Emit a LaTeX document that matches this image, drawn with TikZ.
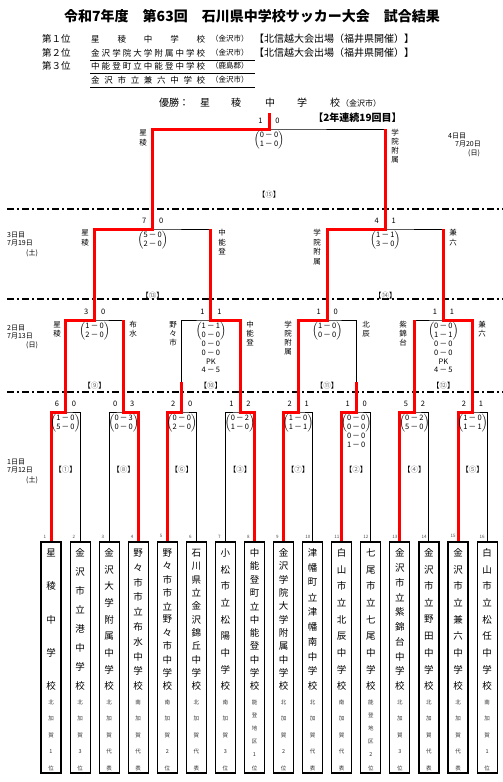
\documentclass[tikz,border=0pt]{standalone}
\usepackage{fontspec}
\setmainfont{Noto Sans CJK JP}
\newfontfamily\jp{Noto Sans CJK JP}
\tikzset{
  blk/.style={line width=1pt, black},
  redp/.style={line width=3pt, red, line join=miter},
  dashsep/.style={line width=1.6pt, black, dash pattern=on 7pt off 3pt on 2pt off 3pt},
  scn/.style={font=\jp\fontsize{7.5}{8.6}\selectfont, inner sep=0pt},
  det/.style={font=\jp\fontsize{7.5}{8.6}\selectfont, inner sep=0pt},
  vch/.style={font=\jp\fontsize{7.5}{8}\selectfont, inner sep=0pt},
  tch/.style={font=\jp\fontsize{9.5}{10}\selectfont, inner sep=0pt},
  rch/.style={font=\jp\fontsize{5.5}{6}\selectfont, inner sep=0pt, black!80},
  bnum/.style={font=\jp\fontsize{4.5}{5}\selectfont, inner sep=0pt, anchor=west, black!70},
  teambox/.style={draw, line width=1.2pt, minimum width=20pt, minimum height=231pt, inner sep=0pt},
  rlab/.style={font=\jp\fontsize{7.5}{8}\selectfont, inner sep=0pt},
  day/.style={font=\jp\fontsize{7}{8}\selectfont, inner sep=0pt, anchor=west},
  rk/.style={font=\jp\fontsize{9.5}{10}\selectfont, inner sep=0pt, anchor=west},
  rs/.style={font=\jp\fontsize{8.5}{10}\selectfont, inner sep=0pt, anchor=west},
  rsm/.style={font=\jp\fontsize{7.5}{9}\selectfont, inner sep=0pt, anchor=west},
  hs/.style={font=\jp\fontsize{10}{11}\selectfont, inner sep=0pt, anchor=west},
}
\newcommand\vtxt[6]{\foreach \ch [count=\ii from 0] in {#6} {\node[#5] (#1-\ii) at (#2,{#3+\ii*#4}) {\ch};}}
\newcommand\scores[5]{\node[scn] (#1l) at ({#2-8.5},#3) {#4};\node[scn] (#1r) at ({#2+8.5},#3) {#5};}
\newcommand\detail[5]{\node[det] (#1) at (#2,{#3+11.3}) {$\left(\begin{tabular}{@{}c@{}}#4\\#5\end{tabular}\right)$};}
\newcommand\rl[1]{【{\color{black!60}#1}】}
\begin{document}
\begin{tikzpicture}[x=1pt,y=-1pt]
\useasboundingbox (0,0) rectangle (503,782);
\fill[white] (0,0) rectangle (503,782);

% ---------- header ----------
\node[font=\jp\bfseries\fontsize{14}{16}\selectfont, inner sep=0pt] (title) at (252,16) {令和7年度　第63回　石川県中学校サッカー大会　試合結果};
\node[rk] (p1) at (42,39) {第１位};
\node[rk] (p2) at (42,53) {第２位};
\node[rk] (p3) at (42,66) {第３位};
\node[rs] (s1) at (91,39) {\makebox[114pt]{星\hfill 稜\hfill 中\hfill 学\hfill 校}};
\node[rs] (s2) at (91,53) {\makebox[114pt]{金\hfill 沢\hfill 学\hfill 院\hfill 大\hfill 学\hfill 附\hfill 属\hfill 中\hfill 学\hfill 校}};
\node[rs] (s3) at (91,66) {\makebox[114pt]{中\hfill 能\hfill 登\hfill 町\hfill 立\hfill 中\hfill 能\hfill 登\hfill 中\hfill 学\hfill 校}};
\node[rs] (s4) at (91,80) {\makebox[114pt]{金\hfill 沢\hfill 市\hfill 立\hfill 兼\hfill 六\hfill 中\hfill 学\hfill 校}};
\node[rsm] (s1c) at (211,39) {（金沢市）};
\node[rsm] (s2c) at (211,53) {（金沢市）};
\node[rsm] (s3c) at (211,66) {（鹿島郡）};
\node[rsm] (s4c) at (211,80) {（金沢市）};
\coordinate (u1a) at (90,60); \coordinate (u1b) at (255,60);
\coordinate (u2a) at (90,73); \coordinate (u2b) at (255,73);
\coordinate (u3a) at (90,87); \coordinate (u3b) at (255,87);
\draw[blk] (u1a) -- (u1b); \draw[blk] (u2a) -- (u2b); \draw[blk] (u3a) -- (u3b);
\node[hs] (h1) at (254,39) {【北信越大会出場（福井県開催）】};
\node[hs] (h2) at (254,53) {【北信越大会出場（福井県開催）】};

\node[hs] (yu) at (159,103) {優勝：};
\node[font=\jp\fontsize{10}{11}\selectfont, inner sep=0pt] (c1) at (205,103) {星};
\node[font=\jp\fontsize{10}{11}\selectfont, inner sep=0pt] (c2) at (236,103) {稜};
\node[font=\jp\fontsize{10}{11}\selectfont, inner sep=0pt] (c3) at (270,103) {中};
\node[font=\jp\fontsize{10}{11}\selectfont, inner sep=0pt] (c4) at (302,103) {学};
\node[font=\jp\fontsize{10}{11}\selectfont, inner sep=0pt] (c5) at (335,103) {校};
\node[font=\jp\fontsize{8}{9}\selectfont, inner sep=0pt, anchor=west] (c6) at (341,103) {（金沢市）};
\node[font=\jp\bfseries\fontsize{10}{11}\selectfont, inner sep=0pt] (ren) at (357.5,118) {【2年連続19回目】};

% ---------- separators ----------
\coordinate (L1a) at (7,209); \coordinate (L1b) at (503,209);
\coordinate (L2a) at (7,299); \coordinate (L2b) at (503,299);
\coordinate (L3a) at (7,392); \coordinate (L3b) at (503,392);
\draw[dashsep] (L1a) -- (L1b);
\draw[dashsep] (L2a) -- (L2b);
\draw[dashsep] (L3a) -- (L3b);

% ---------- team boxes ----------
\node[teambox] (b1) at (51.0,657.5) {};
\node[teambox] (b2) at (80.1,657.5) {};
\node[teambox] (b3) at (109.1,657.5) {};
\node[teambox] (b4) at (138.2,657.5) {};
\node[teambox] (b5) at (167.3,657.5) {};
\node[teambox] (b6) at (196.4,657.5) {};
\node[teambox] (b7) at (225.4,657.5) {};
\node[teambox] (b8) at (254.5,657.5) {};
\node[teambox] (b9) at (283.6,657.5) {};
\node[teambox] (b10) at (312.7,657.5) {};
\node[teambox] (b11) at (341.7,657.5) {};
\node[teambox] (b12) at (370.8,657.5) {};
\node[teambox] (b13) at (399.8,657.5) {};
\node[teambox] (b14) at (428.9,657.5) {};
\node[teambox] (b15) at (458.0,657.5) {};
\node[teambox] (b16) at (487.1,657.5) {};
\foreach \k in {1,...,16} {\node[bnum] (n\k) at ([xshift=3pt,yshift=5pt]b\k.north west) {\k};}

\vtxt{ta}{51.0}{553}{33.25}{tch}{星,稜,中,学,校}
\vtxt{tb}{80.1}{553}{19}{tch}{金,沢,市,立,港,中,学,校}
\vtxt{tc}{109.1}{553}{16.625}{tch}{金,沢,大,学,附,属,中,学,校}
\vtxt{td}{138.2}{553}{14.78}{tch}{野,々,市,市,立,布,水,中,学,校}
\vtxt{te}{167.3}{553}{13.3}{tch}{野,々,市,市,立,野,々,市,中,学,校}
\vtxt{tf}{196.4}{553}{13.3}{tch}{石,川,県,立,金,沢,錦,丘,中,学,校}
\vtxt{tg}{225.4}{553}{16.625}{tch}{小,松,市,立,松,陽,中,学,校}
\vtxt{th}{254.5}{553}{13.3}{tch}{中,能,登,町,立,中,能,登,中,学,校}
\vtxt{ti}{283.6}{553}{13.3}{tch}{金,沢,学,院,大,学,附,属,中,学,校}
\vtxt{tj}{312.7}{553}{14.78}{tch}{津,幡,町,立,津,幡,南,中,学,校}
\vtxt{tk}{341.7}{553}{16.625}{tch}{白,山,市,立,北,辰,中,学,校}
\vtxt{tl}{370.8}{553}{16.625}{tch}{七,尾,市,立,七,尾,中,学,校}
\vtxt{tm}{399.8}{553}{14.78}{tch}{金,沢,市,立,紫,錦,台,中,学,校}
\vtxt{tn}{428.9}{553}{16.625}{tch}{金,沢,市,立,野,田,中,学,校}
\vtxt{to}{458.0}{553}{16.625}{tch}{金,沢,市,立,兼,六,中,学,校}
\vtxt{tp}{487.1}{553}{16.625}{tch}{白,山,市,立,松,任,中,学,校}

\vtxt{ra}{51.0}{702}{16.5}{rch}{北,加,賀,1,位}
\vtxt{rb}{80.1}{702}{16.5}{rch}{北,加,賀,3,位}
\vtxt{rc}{109.1}{702}{16.5}{rch}{北,加,賀,代,表}
\vtxt{rd}{138.2}{702}{16.5}{rch}{南,加,賀,代,表}
\vtxt{re}{167.3}{702}{16.5}{rch}{南,加,賀,2,位}
\vtxt{rf}{196.4}{702}{16.5}{rch}{北,加,賀,代,表}
\vtxt{rg}{225.4}{702}{16.5}{rch}{南,加,賀,3,位}
\vtxt{rh}{254.5}{702}{13.2}{rch}{能,登,地,区,1,位}
\vtxt{ri}{283.6}{702}{16.5}{rch}{北,加,賀,2,位}
\vtxt{rj}{312.7}{702}{16.5}{rch}{北,加,賀,代,表}
\vtxt{rk}{341.7}{702}{16.5}{rch}{南,加,賀,代,表}
\vtxt{rl}{370.8}{702}{13.2}{rch}{能,登,地,区,2,位}
\vtxt{rm}{399.8}{702}{16.5}{rch}{北,加,賀,3,位}
\vtxt{rn}{428.9}{702}{16.5}{rch}{北,加,賀,代,表}
\vtxt{ro}{458.0}{702}{16.5}{rch}{北,加,賀,代,表}
\vtxt{rp}{487.1}{702}{16.5}{rch}{南,加,賀,1,位}

% ---------- bracket coordinates ----------
\coordinate (A1) at (65.5,412); \coordinate (A2) at (123.7,412);
\coordinate (A3) at (181.8,412); \coordinate (A4) at (240.0,412);
\coordinate (A5) at (298.1,412); \coordinate (A6) at (356.2,412);
\coordinate (A7) at (414.4,412); \coordinate (A8) at (472.5,412);
\coordinate (B1) at (94.6,320); \coordinate (B2) at (210.9,320);
\coordinate (B3) at (327.2,320); \coordinate (B4) at (443.4,320);
\coordinate (C1) at (152.7,229); \coordinate (C2) at (385.3,229);
\coordinate (D) at (269,129); \coordinate (W) at (269,113);

% black bracket
\draw[blk] (b1.north) |- (A1) -| (b2.north);
\draw[blk] (b3.north) |- (A2) -| (b4.north);
\draw[blk] (b5.north) |- (A3) -| (b6.north);
\draw[blk] (b7.north) |- (A4) -| (b8.north);
\draw[blk] (b9.north) |- (A5) -| (b10.north);
\draw[blk] (b11.north) |- (A6) -| (b12.north);
\draw[blk] (b13.north) |- (A7) -| (b14.north);
\draw[blk] (b15.north) |- (A8) -| (b16.north);
\draw[blk] (A1) |- (B1) -| (A2);
\draw[blk] (A3) |- (B2) -| (A4);
\draw[blk] (A5) |- (B3) -| (A6);
\draw[blk] (A7) |- (B4) -| (A8);
\draw[blk] (B1) |- (C1) -| (B2);
\draw[blk] (B3) |- (C2) -| (B4);
\draw[blk] (C1) |- (D) -| (C2);
\draw[blk] (D) -- (W);

% red paths
\draw[redp] (b1.north) |- (A1) |- (B1) |- (C1) |- (D) -- (W);
\draw[redp] (b4.north) |- (A2) -- (A2 |- B1);
\draw[redp] (b5.north) |- (A3) -- ++(0,-30);
\draw[redp] (b8.north) |- (A4) |- (B2) -- (B2 |- C1);
\draw[redp] (b9.north) |- (A5) |- (B3) |- (C2) -- (C2 |- D);
\draw[redp] (b11.north) |- (A6) -- ++(0,-30);
\draw[redp] (b13.north) |- (A7) -- (A7 |- B4);
\draw[redp] (b15.north) |- (A8) |- (B4) -- (B4 |- C2);

% ---------- scores ----------
\scores{sD}{269}{121}{1}{0}
\scores{sC1}{152.7}{221}{7}{0}
\scores{sC2}{385.3}{221}{4}{1}
\scores{sB1}{94.6}{312}{3}{0}
\scores{sB2}{210.9}{312}{1}{1}
\scores{sB3}{327.2}{312}{1}{0}
\scores{sB4}{443.4}{312}{1}{1}
\scores{sA1}{65.5}{404}{6}{0}
\scores{sA2}{123.7}{404}{0}{3}
\scores{sA3}{181.8}{404}{2}{0}
\scores{sA4}{240.0}{404}{1}{2}
\scores{sA5}{298.1}{404}{2}{1}
\scores{sA6}{356.2}{404}{1}{0}
\scores{sA7}{414.4}{404}{5}{2}
\scores{sA8}{472.5}{404}{2}{1}

\detail{dD}{269}{129}{0\,－\,0}{1\,－\,0}
\detail{dC1}{152.7}{229}{5\,－\,0}{2\,－\,0}
\detail{dC2}{385.3}{229}{1\,－\,1}{3\,－\,0}
\detail{dB1}{94.6}{320}{1\,－\,0}{2\,－\,0}
\detail{dB2}{210.9}{320}{1\,－\,1}{0\,－\,0}
\detail{dB3}{327.2}{320}{1\,－\,0}{0\,－\,0}
\detail{dB4}{443.4}{320}{0\,－\,0}{1\,－\,1}
\detail{dA1}{65.5}{412}{1\,－\,0}{5\,－\,0}
\detail{dA2}{123.7}{412}{0\,－\,3}{0\,－\,0}
\detail{dA3}{181.8}{412}{0\,－\,0}{2\,－\,0}
\detail{dA4}{240.0}{412}{0\,－\,2}{1\,－\,0}
\detail{dA5}{298.1}{412}{1\,－\,0}{1\,－\,1}
\detail{dA6}{356.2}{412}{0\,－\,0}{0\,－\,0}
\detail{dA7}{414.4}{412}{0\,－\,2}{5\,－\,0}
\detail{dA8}{472.5}{412}{1\,－\,0}{1\,－\,1}
\node[scn] (eB2a) at (210.9,344.2) {0\,－\,0};
\node[scn] (eB2b) at (210.9,352.8) {0\,－\,0};
\node[scn] (eB2c) at (210.9,361.4) {PK};
\node[scn] (eB2d) at (210.9,370.0) {4\,－\,5};
\node[scn] (eB4a) at (443.4,344.2) {0\,－\,0};
\node[scn] (eB4b) at (443.4,352.8) {0\,－\,0};
\node[scn] (eB4c) at (443.4,361.4) {PK};
\node[scn] (eB4d) at (443.4,370.0) {4\,－\,5};
\node[scn] (eA6a) at (356.2,436.2) {0\,－\,0};
\node[scn] (eA6b) at (356.2,444.8) {1\,－\,0};

% ---------- match labels ----------
\node[rlab] (mD) at (269,195) {\rl{⑮}};
\node[rlab] (mC1) at (152.7,296) {\rl{⑬}};
\node[rlab] (mC2) at (385.3,296) {\rl{⑭}};
\node[rlab] (mB1) at (94.6,386) {\rl{⑨}};
\node[rlab] (mB2) at (210.9,386) {\rl{⑩}};
\node[rlab] (mB3) at (327.2,386) {\rl{⑪}};
\node[rlab] (mB4) at (443.4,386) {\rl{⑫}};
\node[rlab] (mA1) at (65.5,470) {\rl{①}};
\node[rlab] (mA2) at (123.7,470) {\rl{⑧}};
\node[rlab] (mA3) at (181.8,470) {\rl{⑥}};
\node[rlab] (mA4) at (240.0,470) {\rl{③}};
\node[rlab] (mA5) at (298.1,470) {\rl{⑦}};
\node[rlab] (mA6) at (356.2,470) {\rl{②}};
\node[rlab] (mA7) at (414.4,470) {\rl{④}};
\node[rlab] (mA8) at (472.5,470) {\rl{⑤}};

% ---------- short names ----------
\vtxt{fa}{143}{133}{9.5}{vch}{星,稜}
\vtxt{fb}{395}{133}{9}{vch}{学,院,附,属}
\vtxt{qa}{85}{233}{9.5}{vch}{星,稜}
\vtxt{qb}{222}{233}{9.5}{vch}{中,能,登}
\vtxt{qc}{317}{233}{9.5}{vch}{学,院,附,属}
\vtxt{qd}{453}{233}{9.5}{vch}{兼,六}
\vtxt{ka}{57}{325}{9}{vch}{星,稜}
\vtxt{kb}{133}{325}{9}{vch}{布,水}
\vtxt{kc}{173}{325}{9}{vch}{野,々,市}
\vtxt{kd}{250}{325}{9}{vch}{中,能,登}
\vtxt{ke}{288}{325}{9}{vch}{学,院,附,属}
\vtxt{kf}{366}{325}{9}{vch}{北,辰}
\vtxt{kg}{403}{325}{9}{vch}{紫,錦,台}
\vtxt{kh}{482}{325}{9}{vch}{兼,六}

% ---------- day labels ----------
\node[day] (d4a) at (448,136) {4日目};
\node[day] (d4b) at (455,144) {7月20日};
\node[day] (d4c) at (468,153) {(日)};
\node[day] (d3a) at (7,235) {3日目};
\node[day] (d3b) at (7,243) {7月19日};
\node[day] (d3c) at (26,253) {(土)};
\node[day] (d2a) at (7,328) {2日目};
\node[day] (d2b) at (7,336) {7月13日};
\node[day] (d2c) at (26,345) {(日)};
\node[day] (d1a) at (7,462) {1日目};
\node[day] (d1b) at (7,470) {7月12日};
\node[day] (d1c) at (26,480) {(土)};
\end{tikzpicture}
\end{document}
